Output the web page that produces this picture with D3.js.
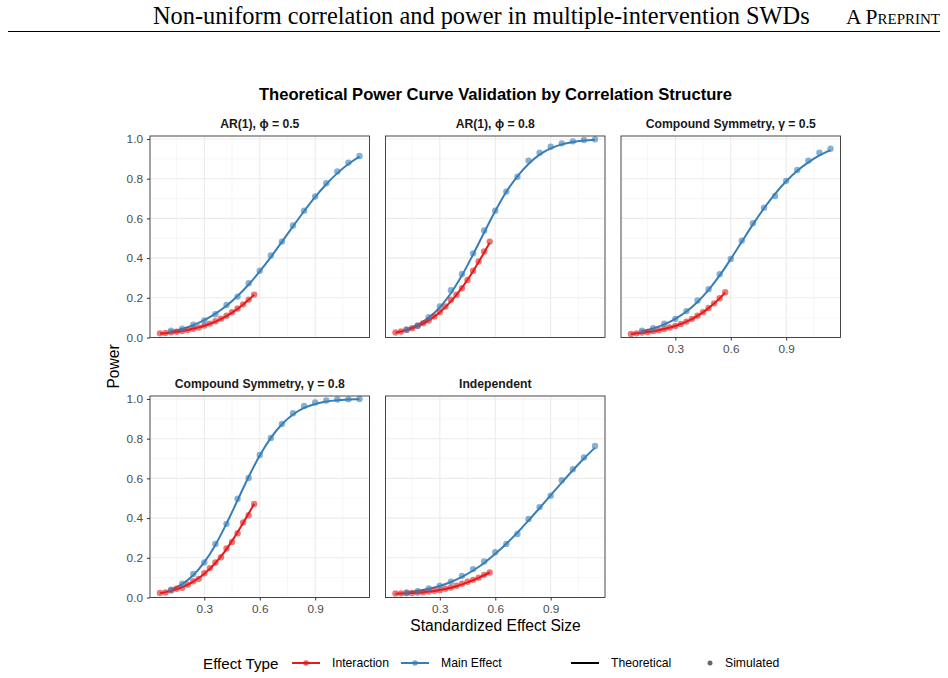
<!DOCTYPE html>
<html><head><meta charset="utf-8">
<script src="https://cdn.jsdelivr.net/npm/d3@7"></script>
<style>body{margin:0;background:#fff}svg{display:block}</style>
</head><body><svg id="c" width="948" height="678"></svg>
<script>
// ---------------- DATA ----------------
const effectMain = [0.12,0.18,0.24,0.30,0.36,0.42,0.48,0.54,0.60,0.66,0.72,0.78,0.84,0.90,0.96,1.02,1.08,1.14];
const effectInteraction = [0.06,0.09,0.12,0.15,0.18,0.21,0.24,0.27,0.30,0.33,0.36,0.39,0.42,0.45,0.48,0.51,0.54,0.57];
const panelTitles = ["AR(1), ϕ = 0.5","AR(1), ϕ = 0.8","Compound Symmetry, γ = 0.5","Compound Symmetry, γ = 0.8","Independent"];

// Theoretical (line) and simulated (point) power, main effect
const theoMainAR05 = [0.030,0.043,0.062,0.087,0.120,0.160,0.209,0.267,0.333,0.405,0.482,0.560,0.636,0.708,0.772,0.828,0.874,0.911];
const simMainAR05  = [0.034,0.044,0.064,0.086,0.117,0.164,0.206,0.273,0.336,0.413,0.483,0.564,0.639,0.710,0.777,0.836,0.881,0.914];
const theoMainAR08 = [0.040,0.063,0.100,0.152,0.223,0.313,0.418,0.529,0.637,0.734,0.812,0.874,0.921,0.953,0.973,0.985,0.992,0.996];
const simMainAR08  = [0.039,0.059,0.102,0.156,0.238,0.320,0.424,0.539,0.639,0.735,0.810,0.891,0.931,0.961,0.978,0.988,0.995,0.998];
const theoMainCS05 = [0.032,0.046,0.066,0.094,0.131,0.179,0.240,0.313,0.395,0.483,0.570,0.651,0.724,0.787,0.840,0.882,0.917,0.944];
const simMainCS05  = [0.034,0.047,0.069,0.094,0.133,0.186,0.243,0.319,0.396,0.488,0.576,0.654,0.713,0.789,0.844,0.891,0.931,0.951];
const theoMainCS08 = [0.040,0.068,0.112,0.178,0.265,0.372,0.490,0.608,0.715,0.804,0.873,0.922,0.955,0.975,0.987,0.994,0.997,0.999];
const simMainCS08  = [0.039,0.069,0.119,0.176,0.270,0.371,0.498,0.602,0.718,0.804,0.874,0.928,0.965,0.982,0.992,0.997,0.998,1.000];
const theoMainInd  = [0.026,0.033,0.044,0.058,0.078,0.104,0.136,0.174,0.220,0.271,0.327,0.388,0.451,0.515,0.579,0.641,0.700,0.755];
const simMainInd   = [0.025,0.032,0.045,0.060,0.080,0.109,0.143,0.181,0.228,0.270,0.320,0.396,0.455,0.513,0.591,0.646,0.705,0.763];

// Theoretical (line) and simulated (point) power, interaction
const theoIntAR05 = [0.020,0.022,0.025,0.029,0.033,0.038,0.044,0.051,0.059,0.069,0.080,0.093,0.108,0.125,0.144,0.166,0.190,0.216];
const simIntAR05  = [0.021,0.023,0.026,0.029,0.033,0.038,0.044,0.051,0.060,0.070,0.082,0.095,0.110,0.127,0.146,0.167,0.191,0.216];
const theoIntAR08 = [0.024,0.030,0.037,0.046,0.057,0.070,0.086,0.105,0.127,0.153,0.182,0.215,0.251,0.291,0.334,0.380,0.428,0.477];
const simIntAR08  = [0.025,0.030,0.039,0.047,0.059,0.072,0.086,0.106,0.128,0.156,0.190,0.215,0.248,0.290,0.336,0.383,0.433,0.483];
const theoIntCS05 = [0.018,0.021,0.024,0.028,0.032,0.037,0.043,0.050,0.058,0.068,0.080,0.093,0.109,0.127,0.148,0.171,0.197,0.226];
const simIntCS05  = [0.018,0.021,0.025,0.028,0.032,0.037,0.043,0.050,0.058,0.068,0.080,0.094,0.110,0.128,0.149,0.172,0.198,0.228];
const theoIntCS08 = [0.022,0.027,0.034,0.042,0.052,0.065,0.080,0.098,0.120,0.145,0.174,0.207,0.244,0.285,0.329,0.375,0.423,0.472];
const simIntCS08  = [0.023,0.025,0.035,0.044,0.049,0.064,0.082,0.094,0.122,0.148,0.176,0.203,0.247,0.280,0.324,0.378,0.414,0.471];
const theoIntInd  = [0.019,0.020,0.021,0.023,0.025,0.027,0.030,0.033,0.038,0.043,0.049,0.057,0.066,0.076,0.087,0.099,0.112,0.126];
const simIntInd   = [0.020,0.021,0.022,0.023,0.025,0.027,0.030,0.034,0.037,0.044,0.050,0.059,0.069,0.079,0.089,0.100,0.114,0.126];

const xTicks = [0.3,0.6,0.9];
const xMinor = [0.15,0.45,0.75,1.05];
const yTicks = [0,0.2,0.4,0.6,0.8,1.0];
const yMinor = [0.1,0.3,0.5,0.7,0.9];
const legendEffect = ["Interaction","Main Effect"];
const legendSource = ["Theoretical","Simulated"];

// --------------- BUILD ---------------
const panelData = [
  {main:[theoMainAR05,simMainAR05], inter:[theoIntAR05,simIntAR05]},
  {main:[theoMainAR08,simMainAR08], inter:[theoIntAR08,simIntAR08]},
  {main:[theoMainCS05,simMainCS05], inter:[theoIntCS05,simIntCS05]},
  {main:[theoMainCS08,simMainCS08], inter:[theoIntCS08,simIntCS08]},
  {main:[theoMainInd,simMainInd],   inter:[theoIntInd,simIntInd]}
];
const colors = {Interaction:"#E41A1C", "Main Effect":"#377EB8"};
const FONT = "'Liberation Sans', Arial, Helvetica, sans-serif";

const svg = d3.select("#c");
svg.append("rect").attr("width",948).attr("height",678).attr("fill","#fff");

// Page header
const head = svg.append("text").attr("x",153).attr("y",24)
  .attr("font-family","'Liberation Serif','Times New Roman',serif")
  .attr("font-size",24).attr("fill","#000")
  .text("Non-uniform correlation and power in multiple-intervention SWDs");
let hw = head.node().getComputedTextLength();
head.attr("font-size", 24*657/hw);
const pre = svg.append("text").attr("x",940).attr("y",24).attr("text-anchor","end")
  .attr("font-family","'Liberation Serif','Times New Roman',serif")
  .attr("font-size",16).style("font-variant","small-caps").attr("fill","#000")
  .text("A Preprint");
let pw0 = pre.node().getComputedTextLength();
pre.attr("font-size", 16*93/pw0);
svg.append("line").attr("x1",8).attr("x2",940).attr("y1",31.5).attr("y2",31.5)
  .attr("stroke","#000").attr("stroke-width",1);

// Chart title
svg.append("text").attr("x",495.5).attr("y",100).attr("text-anchor","middle")
  .attr("font-family",FONT).attr("font-weight","bold").attr("font-size",16.6)
  .attr("fill","#000").text("Theoretical Power Curve Validation by Correlation Structure");

const PX0 = 150, PW = 219.5, PGAP = 16, PY0 = 136, PH = 201.5, RGAP = 58.5;
const x = d3.scaleLinear().domain([0.006,1.194]).range([0,PW]);
const y = d3.scaleLinear().domain([0,1.015]).range([PH,0]);
const line = d3.line().x(d=>x(d[0])).y(d=>y(d[1])).curve(d3.curveMonotoneX);

panelTitles.forEach((title,i)=>{
  const col = i%3, row = Math.floor(i/3);
  const g = svg.append("g").attr("transform",`translate(${PX0+col*(PW+PGAP)},${PY0+row*(PH+RGAP)})`);
  // grid
  g.selectAll(".xmin").data(xMinor).join("line").attr("x1",d=>x(d)).attr("x2",d=>x(d))
    .attr("y1",0).attr("y2",PH).attr("stroke","#F2F2F2").attr("stroke-width",0.6);
  g.selectAll(".ymin").data(yMinor).join("line").attr("y1",d=>y(d)).attr("y2",d=>y(d))
    .attr("x1",0).attr("x2",PW).attr("stroke","#F2F2F2").attr("stroke-width",0.6);
  g.selectAll(".xmaj").data(xTicks).join("line").attr("x1",d=>x(d)).attr("x2",d=>x(d))
    .attr("y1",0).attr("y2",PH).attr("stroke","#EBEBEB").attr("stroke-width",1.1);
  g.selectAll(".ymaj").data(yTicks).join("line").attr("y1",d=>y(d)).attr("y2",d=>y(d))
    .attr("x1",0).attr("x2",PW).attr("stroke","#EBEBEB").attr("stroke-width",1.1);

  const pd = panelData[i];
  const series = [
    {name:"Interaction", xs:effectInteraction, theo:pd.inter[0], sim:pd.inter[1]},
    {name:"Main Effect", xs:effectMain, theo:pd.main[0], sim:pd.main[1]}
  ];
  series.forEach(s=>{
    g.append("path").datum(s.xs.map((v,k)=>[v,s.theo[k]])).attr("d",line)
      .attr("fill","none").attr("stroke",colors[s.name]).attr("stroke-width",2);
  });
  series.forEach(s=>{
    g.append("g").selectAll("circle").data(s.xs.map((v,k)=>[v,s.sim[k]])).join("circle")
      .attr("cx",d=>x(d[0])).attr("cy",d=>y(d[1])).attr("r",3.2)
      .attr("fill",colors[s.name]).attr("fill-opacity",0.6);
  });

  // border
  g.append("rect").attr("width",PW).attr("height",PH).attr("fill","none")
    .attr("stroke","#333").attr("stroke-width",0.9);

  // strip
  g.append("text").attr("x",PW/2).attr("y",-12).attr("text-anchor","middle")
    .attr("dominant-baseline","central").attr("font-family",FONT).attr("font-weight","bold")
    .attr("font-size",12.2).attr("fill","#1A1A1A").text(title);

  // axes
  if (i>=2) {
    const ax = g.append("g").attr("transform",`translate(0,${PH})`)
      .call(d3.axisBottom(x).tickValues(xTicks).tickFormat(d3.format(".1f")).tickSize(3).tickPadding(4));
    ax.select(".domain").remove();
    ax.selectAll("line").attr("stroke","#333");
    ax.selectAll("text").attr("font-family",FONT).attr("font-size",11.8).attr("fill","#4D4D4D");
  }
  if (col===0) {
    const ay = g.append("g")
      .call(d3.axisLeft(y).tickValues(yTicks).tickFormat(d3.format(".1f")).tickSize(3).tickPadding(4));
    ay.select(".domain").remove();
    ay.selectAll("line").attr("stroke","#333");
    ay.selectAll("text").attr("font-family",FONT).attr("font-size",11.8).attr("fill","#4D4D4D");
  }
});

// axis titles
svg.append("text").attr("transform","translate(113,366.5) rotate(-90)").attr("text-anchor","middle")
  .attr("dominant-baseline","central").attr("font-family",FONT).attr("font-size",15.6).attr("fill","#000").text("Power");
svg.append("text").attr("x",495.5).attr("y",625).attr("text-anchor","middle")
  .attr("dominant-baseline","central").attr("font-family",FONT).attr("font-size",15.6).attr("fill","#000").text("Standardized Effect Size");

// legend
const LY = 663;
const lg = svg.append("g").attr("font-family",FONT);
lg.append("text").attr("x",203).attr("y",LY).attr("dominant-baseline","central")
  .attr("font-size",15.2).attr("fill","#000").text("Effect Type");
const keyX = [292, 401];
const labX = [332, 441];
legendEffect.forEach((name,k)=>{
  lg.append("line").attr("x1",keyX[k]).attr("x2",keyX[k]+28).attr("y1",LY).attr("y2",LY)
    .attr("stroke",colors[name]).attr("stroke-width",2);
  lg.append("circle").attr("cx",keyX[k]+14).attr("cy",LY).attr("r",2.8)
    .attr("fill",colors[name]).attr("fill-opacity",0.7);
  lg.append("text").attr("x",labX[k]).attr("y",LY).attr("dominant-baseline","central")
    .attr("font-size",12.2).attr("fill","#000").text(name);
});
lg.append("line").attr("x1",571).attr("x2",599).attr("y1",LY).attr("y2",LY)
  .attr("stroke","#000").attr("stroke-width",2);
lg.append("text").attr("x",611).attr("y",LY).attr("dominant-baseline","central")
  .attr("font-size",12.2).attr("fill","#000").text(legendSource[0]);
lg.append("circle").attr("cx",710).attr("cy",LY).attr("r",2.5).attr("fill","#000").attr("fill-opacity",0.6);
lg.append("text").attr("x",725).attr("y",LY).attr("dominant-baseline","central")
  .attr("font-size",12.2).attr("fill","#000").text(legendSource[1]);
</script>
</body></html>
